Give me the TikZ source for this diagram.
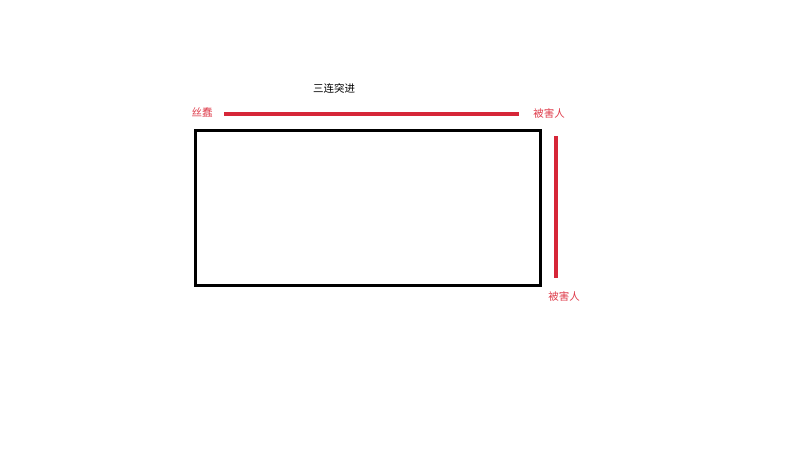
\documentclass[tikz,border=0pt]{standalone}
\usepackage{fontspec}
\newfontfamily\cjk{Noto Sans CJK SC}
\definecolor{myred}{RGB}{214,38,56}
\definecolor{labred}{RGB}{222,60,75}
\begin{document}
\begin{tikzpicture}[x=1pt,y=-1pt,
  lab/.style={font=\cjk\fontsize{10.5}{12}\selectfont, text=labred, inner sep=0pt},
  ttl/.style={font=\cjk\fontsize{10.5}{12}\selectfont, text=black, inner sep=0pt},
  redline/.style={draw=myred, line width=3.2pt},
  box/.style={draw=black, line width=3pt}]
\useasboundingbox (0,0) rectangle (800,450);
\node[ttl] (title) at (334,88) {三连突进};
\node[lab] (a) at (202,113) {丝蠢};
\node[lab] (b) at (549,113) {被害人};
\node[lab] (c) at (564,296) {被害人};
\node[box, minimum width=345pt, minimum height=155pt, inner sep=0pt] (r) at (367.5,207.5) {};
\coordinate (h1) at (224,114);
\coordinate (h2) at (519,114);
\coordinate (v1) at (556,136);
\coordinate (v2) at (556,278);
\draw[redline] (h1) -- (h2);
\draw[redline] (v1) -- (v2);
\end{tikzpicture}
\end{document}
